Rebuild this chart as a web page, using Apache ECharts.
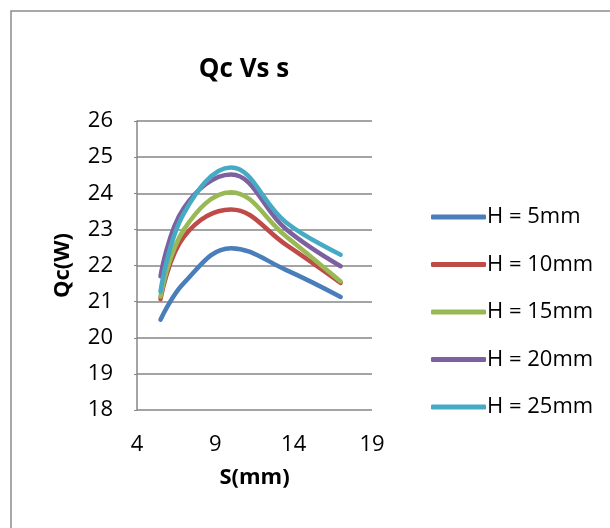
<!DOCTYPE html>
<html>
<head>
<meta charset="utf-8">
<script src="https://cdn.jsdelivr.net/npm/echarts@6/dist/echarts.min.js"></script>
<style>
  html, body { margin: 0; padding: 0; background: #fff; }
  #main { width: 610px; height: 528px; }
</style>
</head>
<body>
<div id="main"></div>
<script>
// S values (mm) and Qc (W) per H
var sValues = [5.5, 7, 10, 13.5, 17];
var seriesNames = ['H = 5mm', 'H = 10mm', 'H = 15mm', 'H = 20mm', 'H = 25mm'];
var h5  = [20.5, 21.52, 22.48, 21.88, 21.13];
var h10 = [21.07, 22.8, 23.55, 22.58, 21.52];
var h15 = [21.14, 23.0, 24.03, 22.81, 21.56];
var h20 = [21.7, 23.6, 24.52, 23.01, 21.98];
var h25 = [21.28, 23.45, 24.71, 23.2, 22.3];
var colors = ['#4a7ebb', '#be4b48', '#98b954', '#7d60a0', '#46aac5'];

var font = '"Open Sans", sans-serif';

function pairs(ys) {
  var out = [];
  for (var i = 0; i < sValues.length; i++) out.push([sValues[i], ys[i]]);
  return out;
}

var allData = [h5, h10, h15, h20, h25];
var series = allData.map(function (d, i) {
  return {
    name: seriesNames[i],
    type: 'line',
    data: pairs(d),
    smooth: 0.4,
    showSymbol: false,
    lineStyle: { width: 4.5, color: colors[i], cap: 'round' },
    itemStyle: { color: colors[i] }
  };
});

var myChart = echarts.init(document.getElementById('main'));
myChart.setOption({
  animation: false,
  title: {
    text: 'Qc Vs s',
    left: 239, top: 52,
    textAlign: 'center',
    textStyle: { fontFamily: font, fontSize: 26, fontWeight: 'bold', color: '#000' }
  },
  graphic: [{
    type: 'rect',
    shape: { x: 11, y: 11, width: 700, height: 600 },
    style: { fill: 'none', stroke: '#8c8c8c', lineWidth: 1.5 }
  }],
  grid: { left: 137, right: 238, top: 121, bottom: 118 },
  legend: {
    orient: 'vertical',
    left: 426, top: 201,
    icon: 'roundRect',
    itemWidth: 55, itemHeight: 5,
    itemGap: 25.5,
    textStyle: { fontFamily: font, fontSize: 22, color: '#000', lineHeight: 22, padding: [0, 0, 0, -4] },
    data: seriesNames
  },
  xAxis: {
    type: 'value',
    min: 4, max: 19, interval: 5,
    name: 'S(mm)',
    nameLocation: 'middle',
    nameGap: 57,
    nameTextStyle: { fontFamily: font, fontSize: 22, fontWeight: 'bold', color: '#000' },
    axisLine: { show: false },
    axisTick: { show: false },
    splitLine: { show: false },
    axisLabel: { fontFamily: font, fontSize: 22, color: '#000', margin: 24 }
  },
  yAxis: {
    type: 'value',
    min: 18, max: 26, interval: 1,
    name: 'Qc(W)',
    nameLocation: 'middle',
    nameGap: 63,
    nameTextStyle: { fontFamily: font, fontSize: 22, fontWeight: 'bold', color: '#000' },
    axisLine: { show: true, lineStyle: { color: '#868686', width: 1.5 } },
    axisTick: { show: true, inside: false, length: 3, lineStyle: { color: '#868686' } },
    splitLine: { show: true, lineStyle: { color: '#868686', width: 1.5 } },
    axisLabel: { fontFamily: font, fontSize: 22, color: '#000', margin: 24 }
  },
  series: series
});
</script>
</body>
</html>
